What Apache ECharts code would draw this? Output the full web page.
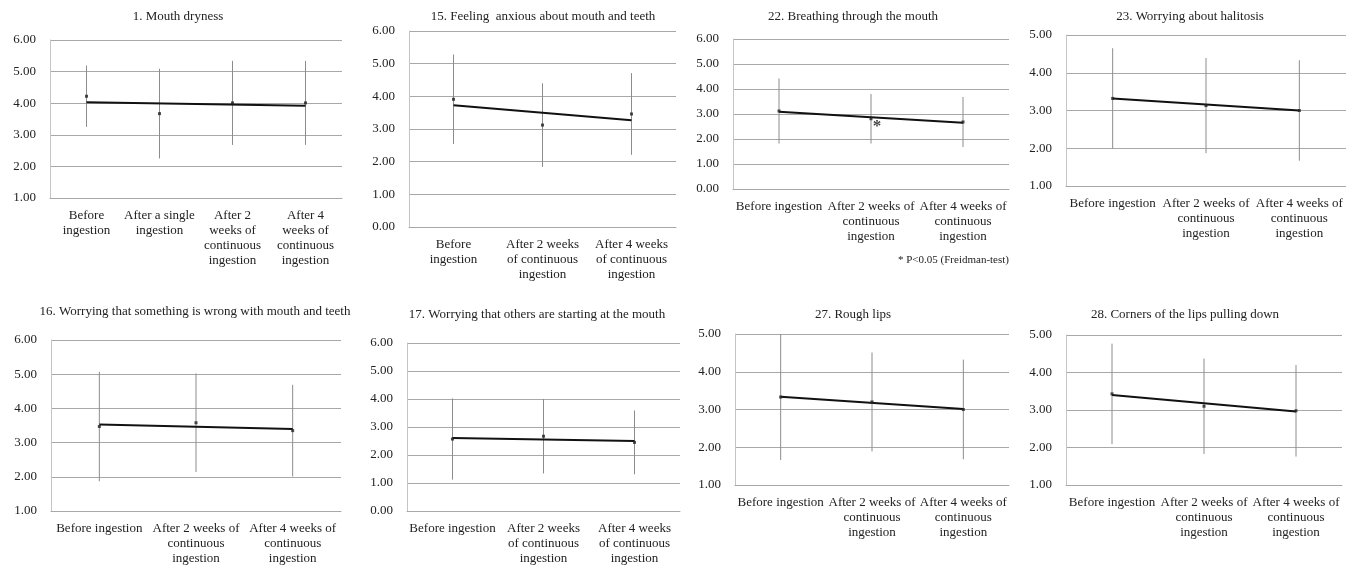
<!DOCTYPE html>
<html>
<head>
<meta charset="utf-8">
<script src="https://cdn.jsdelivr.net/npm/echarts@6/dist/echarts.min.js"></script>
<style>
  html, body { margin: 0; padding: 0; background: #fff; }
  #chart { width: 1346px; height: 566px; }
</style>
</head>
<body>
<div id="chart"></div>
<script>
// panel titles
const titles = [
  '1. Mouth dryness',
  '15. Feeling  anxious about mouth and teeth',
  '22. Breathing through the mouth',
  '23. Worrying about halitosis',
  '16. Worrying that something is wrong with mouth and teeth',
  '17. Worrying that others are starting at the mouth',
  '27. Rough lips',
  '28. Corners of the lips pulling down',
]

// category labels (line breaks as in the figure)
const catsFour = ['Before\ningestion', 'After a single\ningestion', 'After 2\nweeks of\ncontinuous\ningestion', 'After 4\nweeks of\ncontinuous\ningestion']
const catsNarrow = ['Before\ningestion', 'After 2 weeks\nof continuous\ningestion', 'After 4 weeks\nof continuous\ningestion']
const catsWide = ['Before ingestion', 'After 2 weeks of\ncontinuous\ningestion', 'After 4 weeks of\ncontinuous\ningestion']
const catsMixed = ['Before ingestion', 'After 2 weeks\nof continuous\ningestion', 'After 4 weeks\nof continuous\ningestion']

// means, error (SD) and trend line end values per panel
const mean1 = [4.22, 3.67, 4.01, 4.01]
const err1 = [0.97, 1.42, 1.33, 1.33]
const trend1 = [4.03, 3.92]

const mean15 = [3.91, 3.12, 3.46]
const err15 = [1.37, 1.28, 1.25]
const trend15 = [3.73, 3.27]

const mean22 = [3.12, 2.81, 2.68]
const err22 = [1.30, 0.99, 1.00]
const trend22 = [3.09, 2.65]
const sig22 = [[1, 2.58]]

const mean23 = [3.32, 3.13, 3.00]
const err23 = [1.33, 1.26, 1.33]
const trend23 = [3.32, 3.00]

const mean16 = [3.47, 3.58, 3.35]
const err16 = [1.60, 1.44, 1.34]
const trend16 = [3.53, 3.40]

const mean17 = [2.57, 2.67, 2.45]
const err17 = [1.45, 1.33, 1.14]
const trend17 = [2.61, 2.50]

const mean27 = [3.33, 3.20, 3.00]
const err27 = [1.67, 1.31, 1.32]
const trend27 = [3.34, 3.01]

const mean28 = [3.43, 3.10, 2.98]
const err28 = [1.34, 1.27, 1.22]
const trend28 = [3.40, 2.96]

// y-axis ranges
const yRanges = [[1, 6], [0, 6], [0, 6], [1, 5], [1, 6], [0, 6], [1, 5], [1, 5]]

const panels = [
  { cats: catsFour, mean: mean1, err: err1, trend: trend1 },
  { cats: catsNarrow, mean: mean15, err: err15, trend: trend15 },
  { cats: catsWide, mean: mean22, err: err22, trend: trend22, sig: sig22 },
  { cats: catsWide, mean: mean23, err: err23, trend: trend23 },
  { cats: catsWide, mean: mean16, err: err16, trend: trend16 },
  { cats: catsMixed, mean: mean17, err: err17, trend: trend17 },
  { cats: catsWide, mean: mean27, err: err27, trend: trend27 },
  { cats: catsWide, mean: mean28, err: err28, trend: trend28 },
]

// layout
const grids = [
  { left: 50, top: 40, width: 292, height: 158 },
  { left: 409, top: 31, width: 267, height: 196 },
  { left: 733, top: 39, width: 276, height: 150 },
  { left: 1066, top: 35, width: 283, height: 151 },
  { left: 51, top: 340, width: 290, height: 171 },
  { left: 407, top: 343, width: 273, height: 173 },
  { left: 735, top: 334, width: 274, height: 151 },
  { left: 1066, top: 335, width: 276, height: 150 },
]
const titlePos = [[178, 17], [543, 17], [853, 17], [1190, 17], [195, 312], [537, 315], [853, 315], [1185, 315]]

const FONT = "'Liberation Serif', 'Times New Roman', serif"
const TEXT = '#222'

const chart = echarts.init(document.getElementById('chart'))

const series = []
panels.forEach((p, i) => {
  const n = p.cats.length
  series.push({
    type: 'custom',
    xAxisIndex: i,
    yAxisIndex: i,
    silent: true,
    data: p.mean.map((m, k) => [k, m - p.err[k], m + p.err[k]]),
    renderItem: (params, api) => {
      const a = api.coord([api.value(0), api.value(1)])
      const b = api.coord([api.value(0), api.value(2)])
      return {
        type: 'line',
        shape: { x1: a[0], y1: a[1], x2: b[0], y2: b[1] },
        style: { stroke: '#8c8c8c', lineWidth: 1 },
      }
    },
    z: 2,
  })
  series.push({
    type: 'line',
    xAxisIndex: i,
    yAxisIndex: i,
    silent: true,
    symbol: 'none',
    data: [[0, p.trend[0]], [n - 1, p.trend[1]]],
    lineStyle: { color: '#111', width: 2 },
    z: 3,
  })
  series.push({
    type: 'scatter',
    xAxisIndex: i,
    yAxisIndex: i,
    silent: true,
    symbol: 'rect',
    symbolSize: 3,
    itemStyle: { color: '#222' },
    data: p.mean.map((m, k) => [k, m]),
    z: 4,
  })
  if (p.sig) {
    series.push({
      type: 'scatter',
      xAxisIndex: i,
      yAxisIndex: i,
      silent: true,
      symbol: 'circle',
      symbolSize: 0,
      data: p.sig,
      label: {
        show: true,
        position: 'inside',
        formatter: '*',
        fontFamily: FONT,
        fontWeight: 'bold',
        fontSize: 17,
        color: '#111',
        offset: [6, 2],
      },
      z: 5,
    })
  }
})

chart.setOption({
  animation: false,
  backgroundColor: '#fff',
  textStyle: { fontFamily: FONT, color: TEXT },
  grid: grids.map(g => ({ ...g, containLabel: false })),
  xAxis: panels.map((p, i) => ({
    type: 'category',
    gridIndex: i,
    data: p.cats,
    boundaryGap: true,
    axisTick: { show: false },
    axisLine: { lineStyle: { color: '#a8a8a8', width: 1 } },
    axisLabel: {
      interval: 0,
      margin: 10,
      fontFamily: FONT,
      fontSize: 13,
      lineHeight: 15,
      color: TEXT,
      hideOverlap: false,
    },
  })),
  yAxis: yRanges.map((r, i) => ({
    type: 'value',
    gridIndex: i,
    min: r[0],
    max: r[1],
    interval: 1,
    axisTick: { show: false },
    axisLine: { show: true, lineStyle: { color: '#c4c4c4', width: 1 } },
    splitLine: { lineStyle: { color: '#a8a8a8', width: 1 } },
    axisLabel: {
      margin: 14,
      fontFamily: FONT,
      fontSize: 13,
      color: TEXT,
      formatter: v => v.toFixed(2),
    },
  })),
  graphic: [
    ...titles.map((t, i) => ({
      type: 'text',
      x: titlePos[i][0],
      y: titlePos[i][1],
      silent: true,
      style: {
        text: t,
        fill: TEXT,
        font: `13px ${FONT}`,
        textAlign: 'center',
        textVerticalAlign: 'middle',
      },
    })),
    {
      type: 'text',
      x: 1009,
      y: 260,
      silent: true,
      style: {
        text: '* P<0.05 (Freidman-test)',
        fill: TEXT,
        font: `11px ${FONT}`,
        textAlign: 'right',
        textVerticalAlign: 'middle',
      },
    },
  ],
  series,
})
</script>
</body>
</html>
